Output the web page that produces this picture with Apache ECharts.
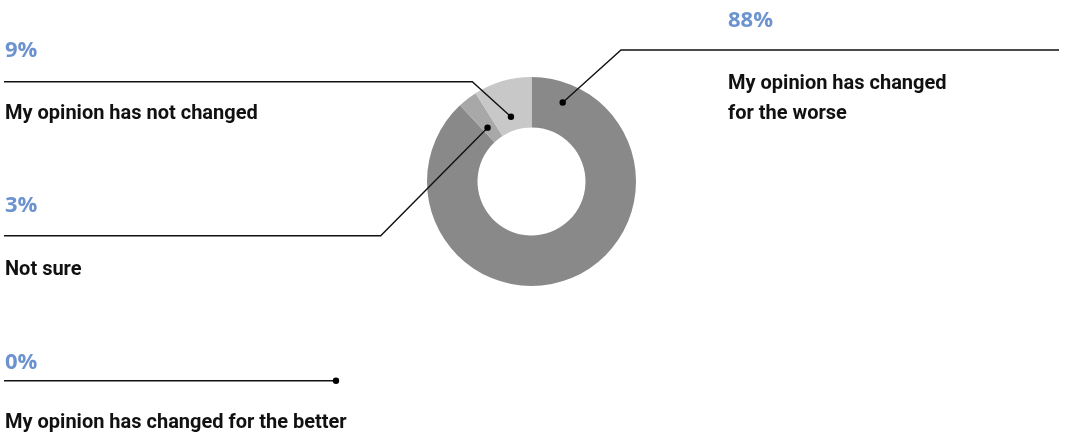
<!DOCTYPE html>
<html><head><meta charset="utf-8">
<script src="https://cdn.jsdelivr.net/npm/echarts@6/dist/echarts.min.js"></script>
<style>html,body{margin:0;padding:0;background:#fff}#c{width:1077px;height:436px}</style>
</head><body><div id="c"></div>
<script>
// ---- data ----
const categories = ['My opinion has changed for the worse', 'Not sure', 'My opinion has not changed', 'My opinion has changed for the better'];
const nameLines = [['My opinion has changed', 'for the worse'], ['Not sure'], ['My opinion has not changed'], ['My opinion has changed for the better']];
const values = [88, 3, 9, 0];
const sliceColors = ['#898989', '#a8a8a8', '#c8c8c8', '#dddddd'];

// ---- layout (positions only) ----
const CENTER = [531.5, 181.5];
const RADIUS = [54, 104.5];
const labelX = [728, 5, 5, 5];
const lineY = [50, 235.7, 81.7, 380.7];
const lineEndX = [1059, 4, 4, 4];
const elbowX = [621, 380.7, 472.3, null];
const anchorFrac = [0.068, 0.37, 0.457, 0.5];
const anchorR = [85, 69.5, 68, 0];
const fixedAnchor = [null, null, null, [336, 380.7]];
const pctDY = [-29.5, -30, -30.7, -18];
const nameDY = [34, 34.5, 32.5, 42.5];

const total = values.reduce((a, b) => a + b, 0);
function anchorPoint(i) {
  if (fixedAnchor[i]) return fixedAnchor[i];
  let start = 0;
  for (let k = 0; k < i; k++) start += values[k];
  const a = (start + anchorFrac[i] * values[i]) / total * 2 * Math.PI;
  return [CENTER[0] + anchorR[i] * Math.sin(a), CENTER[1] - anchorR[i] * Math.cos(a)];
}

const rich = {
  p: { fontFamily: 'Open Sans', fontWeight: 700, fontSize: 22, lineHeight: 30, color: '#6c93cf' },
  n: { fontFamily: 'Roboto', fontWeight: 'bold', fontSize: 20, lineHeight: 30, color: '#111111' }
};
values.forEach((v, i) => { rich['s' + i] = { fontSize: 2, lineHeight: nameDY[i] - pctDY[i] - 30 }; });

const sliceData = categories.map((c, i) => ({ name: c, value: values[i], itemStyle: { color: sliceColors[i] } }));
const labelData = categories.map((c, i) => ({ name: c, value: values[i], itemStyle: { color: 'rgba(0,0,0,0)' } }));

const chart = echarts.init(document.getElementById('c'), null, { renderer: 'canvas' });
chart.setOption({
  animation: false,
  series: [{
    type: 'pie',
    z: 2,
    center: CENTER,
    radius: RADIUS,
    startAngle: 90,
    clockwise: true,
    silent: true,
    data: sliceData,
    label: { show: false },
    labelLine: { show: false }
  }, {
    type: 'pie',
    z: 5,
    center: CENTER,
    radius: RADIUS,
    startAngle: 90,
    clockwise: true,
    avoidLabelOverlap: false,
    silent: true,
    data: labelData,
    label: {
      show: true,
      position: 'outside',
      formatter: function (p) {
        const i = p.dataIndex;
        return '{p|' + values[i] + '%}\n{s' + i + '| }\n' + nameLines[i].map(l => '{n|' + l + '}').join('\n');
      },
      rich: rich
    },
    labelLine: { show: true, smooth: false, lineStyle: { color: '#111111', width: 1.4, opacity: 1 } },
    labelLayout: function (p) {
      const i = p.dataIndex;
      const anc = anchorPoint(i);
      const ly = lineY[i];
      const ex = elbowX[i] == null ? anc[0] : elbowX[i];
      return {
        x: labelX[i], y: ly + pctDY[i] - 15, align: 'left', verticalAlign: 'top',
        labelLinePoints: [anc, [ex, ly], [lineEndX[i], ly]]
      };
    }
  }],
  graphic: values.map((v, i) => {
    const pt = anchorPoint(i);
    return { type: 'circle', shape: { cx: pt[0], cy: pt[1], r: 3.2 }, style: { fill: '#000' }, z: 100 };
  })
});
</script></body></html>
